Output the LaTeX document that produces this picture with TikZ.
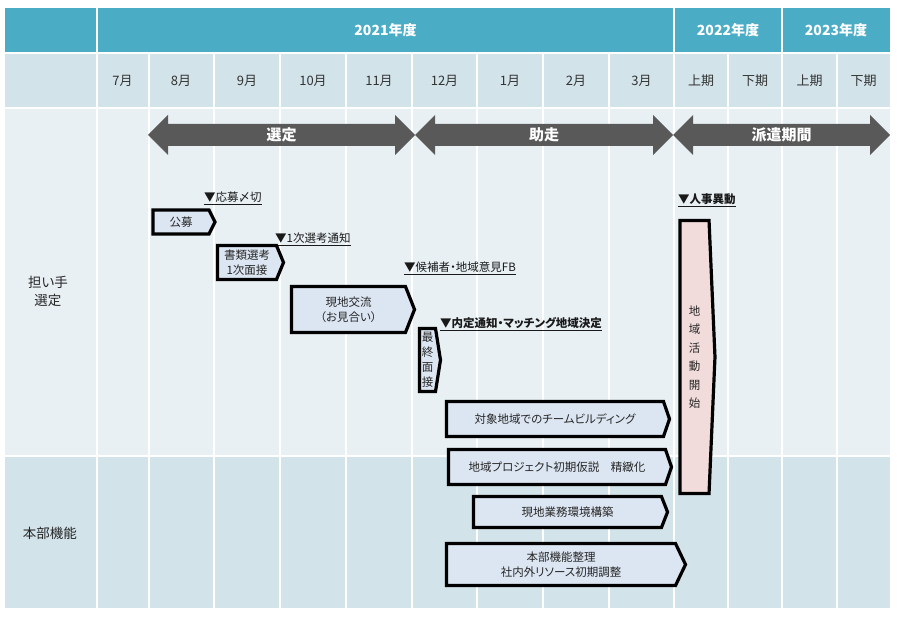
\documentclass[tikz,border=0pt]{standalone}
\usepackage{fontspec}
\setmainfont{Noto Sans CJK JP}[RawFeature=+palt]
\usetikzlibrary{shapes.symbols}

\definecolor{hdrteal}{HTML}{4BACC6}
\definecolor{rowmid}{HTML}{D2E3EA}
\definecolor{rowlight}{HTML}{E8F0F4}
\definecolor{taskfill}{HTML}{DCE6F2}
\definecolor{startfill}{HTML}{F2DCDB}
\definecolor{phasegray}{HTML}{595959}

\tikzset{
    gridline/.style={white,line width=2pt},
    yearlbl/.style={text=white,font=\fontsize{14}{16}\selectfont\bfseries},
    monlbl/.style={text=black!80,font=\fontsize{13}{15}\selectfont},
    rowlbl/.style={align=center,text=black!85,font=\fontsize{13.5}{18}\selectfont},
    phaselbl/.style={text=white,font=\fontsize{15}{17}\selectfont\bfseries},
    task/.style={signal,signal to=east,draw=black,line width=3.2pt,
        fill=taskfill,inner sep=1pt,align=center,text=black!85},
    mile/.style={anchor=west,inner sep=0pt,text=black!90}
}

\begin{document}
\begin{tikzpicture}[x=1pt,y=-1pt,font=\fontsize{11.5}{15}\selectfont]
    \fill[white] (0,0) rectangle (897,617);
    \useasboundingbox (0,0) rectangle (897,617);
    \fill[hdrteal] (5,8) rectangle (890,53);
    \fill[rowmid] (5,53) rectangle (890,108);
    \fill[rowlight] (5,108) rectangle (890,456);
    \fill[rowmid] (5,456) rectangle (890,608);
    \foreach \y in {53.5,108.5,456} \draw[gridline] (5,\y) -- (890,\y);
    \foreach \x in {97,674,782} \draw[gridline] (\x,8) -- (\x,608);
    \foreach \x in {149,214,280,346,412,477,543,609,728,837}
        \draw[gridline] (\x,53) -- (\x,608);

    \node[yearlbl] (fy21) at (385.5,30) {2021年度};
    \node[yearlbl] (fy22) at (728,30) {2022年度};
    \node[yearlbl] (fy23) at (836,30) {2023年度};
    \foreach \m/\xc [count=\i] in {7月/122.5,8月/181,9月/247,10月/313,11月/379,
        12月/444.5,1月/510,2月/576,3月/641.5,上期/701,下期/755,上期/809.5,下期/863.5}
        \node[monlbl] (mon\i) at (\xc,81) {\m};

    \node[rowlbl] (rowsel) at (48,291) {担い手\\選定};
    \node[rowlbl] (rowhq) at (50,533) {本部機能};

    \foreach \a/\b/\lbl [count=\i] in {148/415/選定,415/673/助走,673/890/派遣期間} {
        \fill[phasegray] (\a,135) -- ++(20,-20) -- ++(0,9) -- (\b-20,124)
            -- ++(0,-9) -- (\b,135) -- ++(-20,20) -- ++(0,-9) -- (\a+20,146)
            -- ++(0,9) -- cycle;
        \node[phaselbl] (phase\i) at ({(\a+\b)/2},135) {\lbl};
    }

    \node[mile] (shimekiri) at (204,198) {\underline{▼応募〆切}};
    \node[mile] (tsuchi1) at (275,239) {\underline{▼1次選考通知}};
    \node[mile] (fb) at (404,268) {\underline{▼候補者・地域意見FB}};
    \node[mile,font=\fontsize{11.5}{15}\selectfont\bfseries] (naitei) at (440,324)
        {\underline{▼内定通知・マッチング地域決定}};
    \node[mile,font=\fontsize{11.5}{15}\selectfont\bfseries] (jinji) at (678,200)
        {\underline{▼人事異動}};

    \node[task,minimum width=62,minimum height=24,signal pointer angle=127]
        (koubo) at (181,222) {公募};
    \node[task,minimum width=66,minimum height=34,signal pointer angle=135]
        (shorui) at (247,262.5) {書類選考\\1次面接};
    \node[task,minimum width=123,minimum height=46,signal pointer angle=137]
        (koryu) at (348.5,309.5) {現地交流\\（お見合い）};
    \node[task,minimum width=21,minimum height=63,signal pointer angle=162,
        font=\fontsize{11.5}{15}\selectfont]
        (saishu) at (427.5,360) {最\\終\\面\\接};
    \node[task,minimum width=223,minimum height=35,signal pointer angle=142]
        (team) at (555,419) {対象地域でのチームビルディング};
    \node[task,minimum width=223,minimum height=35,signal pointer angle=142]
        (kasetsu) at (557,467) {地域プロジェクト初期仮説　精緻化};
    \node[task,minimum width=194,minimum height=31,signal pointer angle=137]
        (kankyo) at (567.5,512) {現地業務環境構築};
    \node[task,minimum width=239,minimum height=42,signal pointer angle=129]
        (honbu) at (561,564.5) {本部機能整理\\社内外リソース初期調整};
    \node[task,fill=startfill,minimum width=35,minimum height=273,
        signal pointer angle=175,font=\fontsize{11.5}{18.5}\selectfont]
        (kaishi) at (694.5,357) {地\\域\\活\\動\\開\\始};
\end{tikzpicture}
\end{document}
